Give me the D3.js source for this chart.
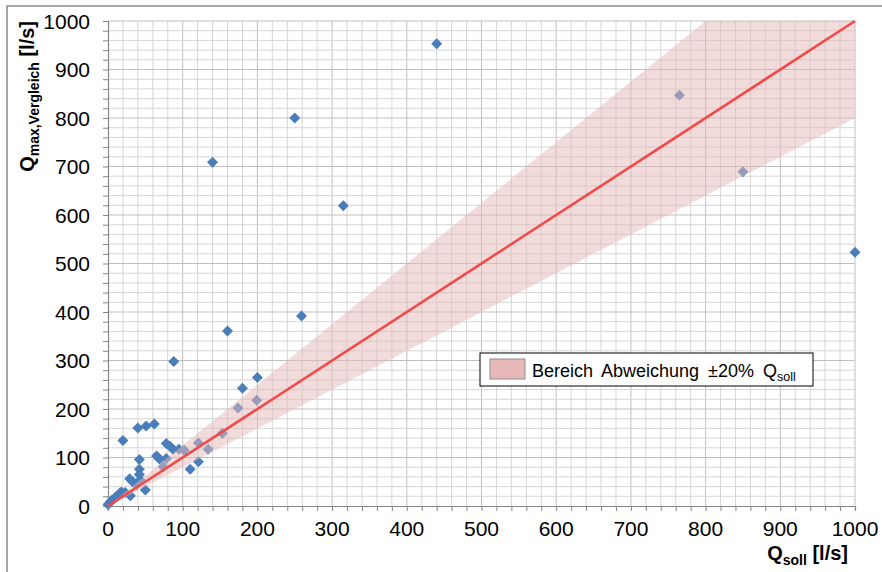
<!DOCTYPE html>
<html>
<head>
<meta charset="utf-8">
<script src="https://cdn.jsdelivr.net/npm/d3@7"></script>
<style>
  body { margin: 0; background: #fff; }
  text { font-family: Arial, "Liberation Sans", sans-serif; fill: #000; }
</style>
</head>
<body>
<svg id="chart" width="882" height="572"></svg>
<script>
const width = 882;
const height = 572;
const margin = { top: 21, right: 27, bottom: 66, left: 108 };

// Data
const qSoll = [0, 3, 5, 8, 10, 12, 14, 16, 18, 23, 30, 20, 40, 51, 62, 42, 42, 42, 29, 33, 38, 43, 50,
  65, 69, 78, 83, 87, 74, 78, 95, 102, 110, 121, 121, 134, 153, 174, 180, 199, 200, 88, 160, 259,
  140, 250, 315, 440, 765, 850, 1000];
const qMax = [3, 8, 12, 15, 18, 20, 23, 27, 29, 28, 21, 135, 161, 165, 169, 96, 76, 65, 56, 50, 44, 54, 33,
  103, 97, 129, 123, 117, 81, 98, 117, 115, 76, 91, 130, 117, 150, 202, 243, 218, 265, 298, 361, 392,
  709, 800, 619, 953, 847, 689, 523];
const axisTicks = [0, 100, 200, 300, 400, 500, 600, 700, 800, 900, 1000];
const minorTicks = d3.range(0, 1001, 20);
const bandLow = 0.8;   // Q_max = 0.8 * Q_soll
const bandHigh = 1.25; // Q_max = Q_soll / 0.8
const legendLabel = "Bereich Abweichung ±20% Q";

const blue = "#4a7ebb";
const red = "#f24a48";

const svg = d3.select("#chart");

const x = d3.scaleLinear().domain([0, 1000]).range([margin.left, width - margin.right]);
const y = d3.scaleLinear().domain([0, 1000]).range([height - margin.bottom, margin.top]);

// outer frame
svg.append("path")
  .attr("d", `M7,${height + 2}V6H${width + 2}`)
  .attr("fill", "none")
  .attr("stroke", "#8c8c8c")
  .attr("stroke-width", 1.5);

// gridlines
const grid = svg.append("g");
grid.selectAll(".vx").data(minorTicks.filter(d => d > 0)).enter().append("line")
  .attr("x1", d => x(d)).attr("x2", d => x(d))
  .attr("y1", y(0)).attr("y2", y(1000))
  .attr("stroke", d => d % 100 === 0 ? "#bfbfbf" : "#d6d6d6")
  .attr("stroke-width", 1);
grid.selectAll(".hy").data(minorTicks.filter(d => d > 0)).enter().append("line")
  .attr("y1", d => y(d)).attr("y2", d => y(d))
  .attr("x1", x(0)).attr("x2", x(1000))
  .attr("stroke", d => d % 100 === 0 ? "#bfbfbf" : "#d6d6d6")
  .attr("stroke-width", 1);

// axes
const xAxis = d3.axisBottom(x).tickValues(minorTicks).tickSize(5).tickFormat("");
const yAxis = d3.axisLeft(y).tickValues(minorTicks).tickSize(5).tickFormat("");
const gx = svg.append("g").attr("transform", `translate(0,${y(0)})`).call(xAxis);
const gy = svg.append("g").attr("transform", `translate(${x(0)},0)`).call(yAxis);
[gx, gy].forEach(g => {
  g.select(".domain").attr("stroke", "#868686").attr("stroke-width", 1.2);
  g.selectAll(".tick line").attr("stroke", "#868686");
});

svg.append("g").selectAll("text").data(axisTicks).enter().append("text")
  .attr("x", d => x(d)).attr("y", 536)
  .attr("text-anchor", "middle")
  .attr("font-size", 21)
  .text(d => d);
svg.append("g").selectAll("text").data(axisTicks).enter().append("text")
  .attr("x", 90).attr("y", d => y(d)).attr("dy", "0.36em")
  .attr("text-anchor", "end")
  .attr("font-size", 21)
  .text(d => d);

// points
const pts = qSoll.map((d, i) => [d, qMax[i]]);
svg.append("g").selectAll("path").data(pts).enter().append("path")
  .attr("d", d => `M${x(d[0])},${y(d[1]) - 5.5}l5.5,5.5l-5.5,5.5l-5.5,-5.5z`)
  .attr("fill", blue);

// +-20% band, drawn over the points like in the original
const band = [[0, 0], [1000 / bandHigh, 1000], [1000, 1000], [1000, 1000 * bandLow]];
svg.append("path")
  .attr("d", d3.line().x(d => x(d[0])).y(d => y(d[1]))(band) + "Z")
  .attr("fill", "#e6b9b8")
  .attr("opacity", 0.5);

// 1:1 line
svg.append("line")
  .attr("x1", x(0)).attr("y1", y(0))
  .attr("x2", x(1000)).attr("y2", y(1000))
  .attr("stroke", red)
  .attr("stroke-width", 2.6);

// legend
const lg = svg.append("g").attr("transform", "translate(480,353)");
lg.append("rect").attr("width", 333).attr("height", 33)
  .attr("fill", "#fff").attr("stroke", "#000").attr("stroke-width", 1);
lg.append("rect").attr("x", 10).attr("y", 6).attr("width", 35).attr("height", 20)
  .attr("fill", "#e6b9b8").attr("stroke", "#8c8c8c").attr("stroke-width", 1);
const lt = lg.append("text").attr("x", 52).attr("y", 24).attr("font-size", 18).attr("word-spacing", 4);
lt.append("tspan").text(legendLabel);
lt.append("tspan").attr("font-size", 12.5).attr("dy", 4).text("soll");

// axis titles
const yt = svg.append("text")
  .attr("transform", "translate(34,21) rotate(-90)")
  .attr("text-anchor", "end")
  .attr("font-size", 20)
  .attr("font-weight", "bold");
yt.append("tspan").text("Q");
yt.append("tspan").attr("font-size", 14).attr("dy", 5).text("max,Vergleich");
yt.append("tspan").attr("dy", -5).text(" [l/s]");

const xt = svg.append("text")
  .attr("x", 848).attr("y", 560)
  .attr("text-anchor", "end")
  .attr("font-size", 20)
  .attr("font-weight", "bold");
xt.append("tspan").text("Q");
xt.append("tspan").attr("font-size", 14).attr("dy", 5).text("soll");
xt.append("tspan").attr("dy", -5).text(" [l/s]");
</script>
</body>
</html>
